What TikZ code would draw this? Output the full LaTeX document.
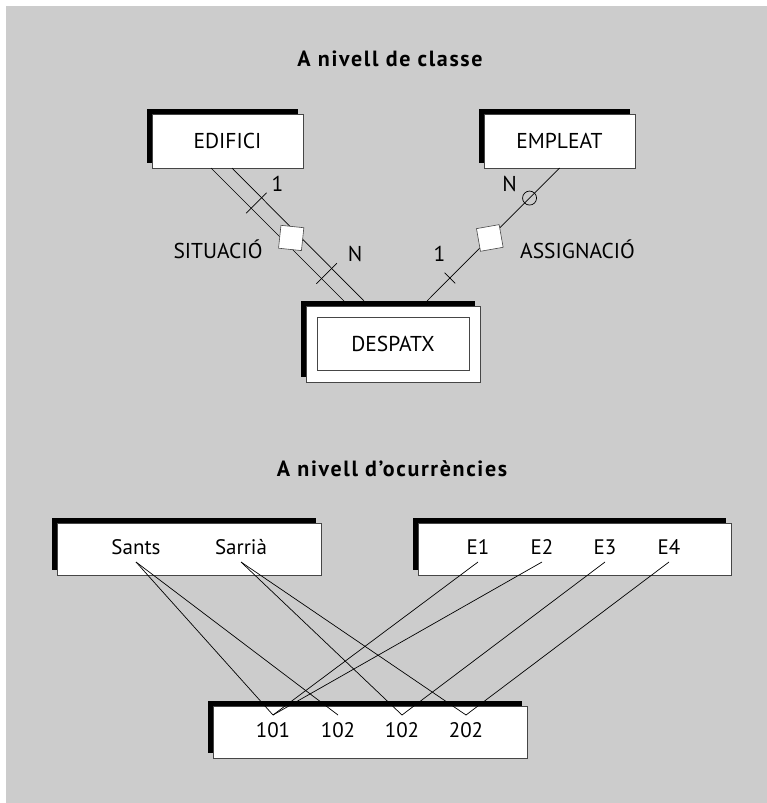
\documentclass[tikz,border=0pt]{standalone}
\usepackage{fontspec}
\setmainfont{PT Sans}
\usetikzlibrary{shadows,calc}
\definecolor{paper}{RGB}{204,204,204}
\definecolor{edge}{RGB}{70,70,70}
\newcommand{\bodyfont}{\fontsize{21.5}{25}\selectfont}

\tikzset{
  entity/.style={draw=edge, line width=0.8pt, fill=white, inner sep=0pt, outer sep=0pt,
    font=\bodyfont,
    general shadow={fill=black, shadow xshift=-5pt, shadow yshift=5pt}},
  lbl/.style={font=\bodyfont, anchor=base, inner sep=0pt},
  heading/.style={font=\bfseries\fontsize{22}{26}\selectfont\addfontfeatures{LetterSpace=7.5},
    anchor=base, inner sep=0pt},
  value/.style={font=\fontsize{21}{25}\selectfont, anchor=base, text height=14pt,
    text depth=0pt, inner xsep=0pt, inner ysep=8pt, outer sep=0pt},
  link/.style={line width=0.7pt},
  tickmark/.style={draw, line width=0.7pt, sloped, minimum width=0pt,
    minimum height=29pt, inner sep=0pt},
  rel/.style={draw=edge, fill=white, line width=0.6pt, minimum size=23pt, inner sep=0pt},
  opt/.style={draw, circle, line width=0.7pt, minimum size=14pt, inner sep=0pt}
}

\begin{document}
\begin{tikzpicture}[x=1pt,y=-1pt]
  \useasboundingbox (0,0) rectangle (767,803);
  \fill[paper] (5.5,6) rectangle (767,803);

  % class level
  \node[heading] (titleclass) at (390,66) {A nivell de classe};
  \node[entity, minimum width=151pt, minimum height=54pt] (edifici) at (227.5,141) {EDIFICI};
  \node[entity, minimum width=151pt, minimum height=54pt] (empleat) at (559.5,141) {EMPLEAT};
  \node[entity, minimum width=174pt, minimum height=76pt] (despatxbox) at (393,344) {};
  \node[draw=edge, line width=0.8pt, minimum width=152pt, minimum height=53pt,
        font=\bodyfont] (despatx) at (393,343.5) {DESPATX};

  % weak relationship: double line
  \draw[link] ($(edifici.south west)+(59,0)$) -- ($(despatxbox.north west)+(38,-5)$);
  \draw[link] ($(edifici.south west)+(80,0)$) -- ($(despatxbox.north west)+(58,-5)$);
  \path ($(edifici.south west)+(69.5,0)$) -- ($(despatxbox.north west)+(48,-5)$)
    node[tickmark, pos=0.263] (sittick1) {}
    node[rel, pos=0.526, rotate=-6] (situacio) {}
    node[tickmark, pos=0.793] (sittickn) {};
  \node[lbl] (sitone) at (277.5,191) {1};
  \node[lbl] (sitn) at (355,261) {N};
  \node[lbl] (sitname) at (218,258) {SITUACIÓ};

  \draw[link] (empleat.south) -- ($(despatxbox.north west)+(121,-5)$)
    node[opt, pos=0.226] (asscirc) {}
    node[rel, pos=0.526, rotate=10] (assignacio) {}
    node[tickmark, minimum height=15pt, pos=0.827] (asstick) {};
  \node[lbl] (assn) at (509.5,191) {N};
  \node[lbl] (assone) at (439.5,261) {1};
  \node[lbl] (assname) at (577.5,258) {ASSIGNACIÓ};

  % occurrence level
  \node[heading] (titleocc) at (392,476) {A nivell d’ocurrències};
  \node[entity, minimum width=264pt, minimum height=52pt] (placebox) at (189,549) {};
  \node[entity, minimum width=313pt, minimum height=52pt] (staffbox) at (574.5,549) {};
  \node[entity, minimum width=314pt, minimum height=52pt] (officebox) at (370,732) {};

  \foreach \n/\x/\t in {sants/136/Sants, sarria/241/Sarrià}
    \node[value] (\n) at (\x,554) {\t};
  \foreach \i/\x in {1/478, 2/542, 3/605, 4/669}
    \node[value] (e\i) at (\x,554) {E\i};
  \foreach \n/\x/\t in {d101/273/101, d102a/338/102, d102b/402/102, d202/466/202}
    \node[value] (\n) at (\x,737) {\t};

  \foreach \a/\b in {sants/d101, sants/d102a, sarria/d102b, sarria/d202,
                     e1/d101, e2/d101, e3/d102b, e4/d202}
    \draw[link] (\a.south) -- (\b.north);
\end{tikzpicture}
\end{document}
